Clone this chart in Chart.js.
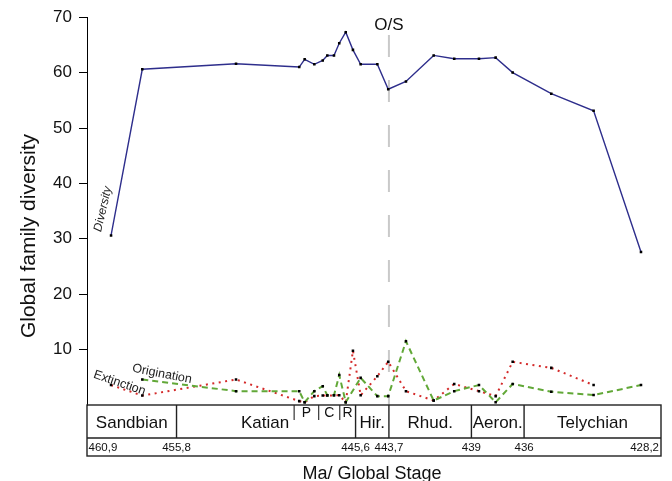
<!DOCTYPE html>
<html>
<head>
<meta charset="utf-8">
<script src="https://cdn.jsdelivr.net/npm/chart.js@4.4.1/dist/chart.umd.min.js"></script>
<style>
  html, body { margin: 0; padding: 0; background: #fff; }
  #wrap { width: 672px; height: 481px; }
</style>
</head>
<body>
<div id="wrap"><canvas id="c" width="672" height="481"></canvas></div>
<script>
// Global family diversity, Late Ordovician – early Silurian (ages in Ma)
const diversityAge = [459.53, 457.75, 452.41, 448.81, 448.50, 447.95, 447.47, 447.21, 446.83, 446.53, 446.16, 445.75, 445.31, 444.36, 443.74, 442.73, 441.15, 439.98, 438.57, 437.62, 436.65, 434.45, 432.04, 429.34];
const diversity    = [30.6, 60.6, 61.6, 61.0, 62.4, 61.5, 62.2, 63.1, 63.1, 65.3, 67.3, 64.1, 61.5, 61.5, 57.0, 58.4, 63.1, 62.5, 62.5, 62.7, 60.0, 56.2, 53.1, 27.6];

const originationAge = [457.75, 452.41, 448.81, 448.50, 447.95, 447.47, 447.21, 446.83, 446.53, 446.16, 445.31, 444.36, 443.74, 442.73, 441.15, 439.98, 438.57, 437.62, 436.65, 434.45, 432.04, 429.34];
const origination    = [4.6, 2.5, 2.5, 0.5, 2.5, 3.4, 1.75, 1.75, 5.4, 0.5, 4.9, 1.6, 1.6, 11.5, 0.8, 2.5, 3.6, 0.5, 3.8, 2.4, 1.8, 3.6];

const extinctionAge = [459.53, 457.75, 452.41, 448.81, 448.50, 447.95, 447.47, 447.21, 446.83, 446.53, 446.16, 445.75, 445.31, 444.36, 443.74, 442.73, 441.15, 439.98, 438.57, 437.62, 436.65, 434.45, 432.04];
const extinction    = [3.6, 1.7, 4.6, 0.7, 0.5, 1.6, 1.7, 1.7, 1.75, 1.75, 0.5, 9.8, 1.75, 5.2, 7.8, 2.5, 0.8, 3.8, 2.5, 1.6, 7.8, 6.7, 3.6];

// Global stages and their base ages
const stageNames   = ['Sandbian', 'Katian', 'Hir.', 'Rhud.', 'Aeron.', 'Telychian'];
const stageBounds  = [460.9, 455.8, 445.6, 443.7, 439, 436, 428.2];
const stageLabels  = ['460,9', '455,8', '445,6', '443,7', '439', '436', '428,2'];
const subStageNames  = ['P', 'C', 'R'];
const subStageBounds = [449.1, 447.7, 446.5, 445.6];
const boundaryAge = 443.7;   // Ordovician / Silurian
const yTicks = [10, 20, 30, 40, 50, 60, 70];

const FONT = "'Liberation Sans', Arial, Helvetica, sans-serif";

const toPoints = (xs, ys) => xs.map((x, i) => ({ x: x, y: ys[i] }));

const stagePlugin = {
  id: 'stages',
  beforeDatasetsDraw(chart) {
    const ctx = chart.ctx, xs = chart.scales.x, area = chart.chartArea;
    const bx = xs.getPixelForValue(boundaryAge);
    ctx.save();
    ctx.strokeStyle = '#c9c9c9';
    ctx.lineWidth = 2;
    ctx.setLineDash([22, 23]);
    ctx.beginPath();
    ctx.moveTo(bx, 35);
    ctx.lineTo(bx, area.bottom);
    ctx.stroke();
    ctx.restore();
  },
  afterDraw(chart) {
    const ctx = chart.ctx, xs = chart.scales.x, area = chart.chartArea;
    const px = v => xs.getPixelForValue(v);
    const top = area.bottom, mid = top + 33, bot = top + 51;
    const left = px(stageBounds[0]), right = px(stageBounds[stageBounds.length - 1]);
    ctx.save();
    ctx.fillStyle = '#111';

    // stage box
    ctx.strokeStyle = '#222';
    ctx.lineWidth = 1.4;
    ctx.strokeRect(left, top, right - left, bot - top);
    ctx.beginPath();
    ctx.moveTo(left, mid); ctx.lineTo(right, mid);
    for (let i = 1; i < stageBounds.length - 1; i++) {
      const x = px(stageBounds[i]);
      ctx.moveTo(x, top); ctx.lineTo(x, mid);
    }
    ctx.stroke();
    ctx.lineWidth = 1.1;
    ctx.beginPath();
    for (let i = 0; i < subStageBounds.length - 1; i++) {
      const x = px(subStageBounds[i]);
      ctx.moveTo(x, top); ctx.lineTo(x, top + 15);
    }
    ctx.stroke();

    // stage names
    ctx.font = '17px ' + FONT;
    ctx.textAlign = 'center';
    ctx.textBaseline = 'alphabetic';
    stageNames.forEach((n, i) => {
      let cx = (px(stageBounds[i]) + px(stageBounds[i + 1])) / 2;
      if (n === 'Katian') cx = (px(stageBounds[i]) + px(subStageBounds[0])) / 2 + 0;
      ctx.fillText(n, n === 'Katian' ? 265 : cx, top + 23);
    });
    ctx.font = '14px ' + FONT;
    subStageNames.forEach((n, i) => {
      const cx = (px(subStageBounds[i]) + px(subStageBounds[i + 1])) / 2;
      ctx.fillText(n, cx, top + 12);
    });

    // boundary ages
    ctx.font = '11.5px ' + FONT;
    stageLabels.forEach((t, i) => {
      const x = px(stageBounds[i]);
      if (i === 0) { ctx.textAlign = 'left'; ctx.fillText(t, x + 1.5, top + 46); }
      else if (i === stageLabels.length - 1) { ctx.textAlign = 'right'; ctx.fillText(t, x - 2, top + 46); }
      else { ctx.textAlign = 'center'; ctx.fillText(t, x, top + 46); }
    });

    // O/S label
    ctx.textAlign = 'center';
    ctx.font = '17px ' + FONT;
    ctx.fillText('O/S', px(boundaryAge), 30);

    // axis titles
    ctx.font = '18px ' + FONT;
    ctx.fillText('Ma/ Global Stage', 372, 479);
    ctx.save();
    ctx.translate(29, 236);
    ctx.rotate(-Math.PI / 2);
    ctx.font = '21px ' + FONT;
    ctx.textBaseline = 'middle';
    ctx.fillText('Global family diversity', 0, 0);
    ctx.restore();

    // series labels
    ctx.fillStyle = '#222';
    ctx.textBaseline = 'middle';
    const tag = (text, x, y, deg, font) => {
      ctx.save();
      ctx.translate(x, y);
      ctx.rotate(deg * Math.PI / 180);
      ctx.font = font;
      ctx.fillText(text, 0, 0);
      ctx.restore();
    };
    tag('Diversity', 103, 209, -77, 'italic 12px ' + FONT);
    tag('Origination', 162, 374, 11, '12.5px ' + FONT);
    tag('Extinction', 119.5, 383, 19, '12.5px ' + FONT);
    ctx.restore();
  }
};

const pointStyle = { pointStyle: 'rect', pointRadius: 1.8, pointHoverRadius: 1.8, pointBackgroundColor: '#000', pointBorderWidth: 0, tension: 0, fill: false };

new Chart(document.getElementById('c'), {
  type: 'line',
  data: {
    datasets: [
      Object.assign({ label: 'Diversity', data: toPoints(diversityAge, diversity), borderColor: '#2e2e8c', borderWidth: 1.4 }, pointStyle),
      Object.assign({ label: 'Origination', data: toPoints(originationAge, origination), borderColor: '#62a838', borderWidth: 2, borderDash: [6, 4] }, pointStyle),
      Object.assign({ label: 'Extinction', data: toPoints(extinctionAge, extinction), borderColor: '#d42a2a', borderWidth: 2, borderDash: [2, 4.5] }, pointStyle)
    ]
  },
  options: {
    responsive: false,
    animation: false,
    devicePixelRatio: 1,
    layout: { padding: { left: 0, right: 11, top: 16, bottom: 76 } },
    plugins: { legend: { display: false }, tooltip: { enabled: false } },
    scales: {
      x: { type: 'linear', reverse: true, min: stageBounds[stageBounds.length - 1], max: stageBounds[0], display: false },
      y: {
        min: 0, max: 70,
        afterBuildTicks: s => { s.ticks = yTicks.map(v => ({ value: v })); },
        afterFit: s => { s.width = 87; },
        border: { display: true, color: '#000', width: 1 },
        grid: { drawOnChartArea: false, drawTicks: true, tickLength: 8, color: '#000', lineWidth: 1 },
        ticks: { padding: 7, color: '#111', font: { family: FONT, size: 17 } }
      }
    }
  },
  plugins: [stagePlugin]
});
</script>
</body>
</html>
